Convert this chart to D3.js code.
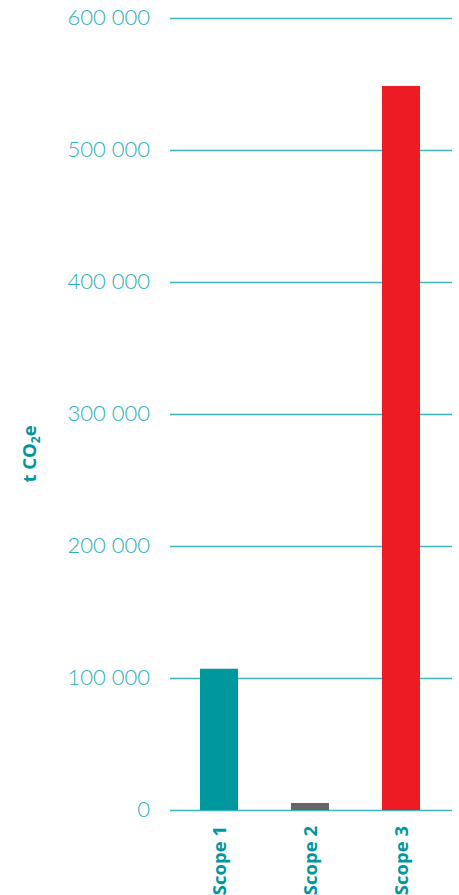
<!DOCTYPE html>
<html><head><meta charset="utf-8">
<script src="https://cdn.jsdelivr.net/npm/d3@7"></script>
<style>body{margin:0;background:#fff}svg{display:block}</style>
</head><body>
<svg id="c" width="459" height="895"></svg>
<script>
const categories = ["Scope 1", "Scope 2", "Scope 3"];
const values = [107000, 5300, 548500];
const barColors = ["#00989F", "#666666", "#ED1C24"];
const tickValues = [0, 100000, 200000, 300000, 400000, 500000, 600000];
const tickLabels = ["0", "100 000", "200 000", "300 000", "400 000", "500 000", "600 000"];

const svg = d3.select("#c");
const y = d3.scaleLinear().domain([0, 600000]).range([810, 18]);
const x = d3.scalePoint().domain(categories).range([219, 401]);
const barW = 38;

// gridlines
svg.append("g").selectAll("line").data(tickValues).join("line")
  .attr("x1", 170).attr("x2", 452)
  .attr("y1", d => y(d) + 0.5).attr("y2", d => y(d) + 0.5)
  .attr("stroke", "#3FB3BC").attr("stroke-width", 1.3);

// tick labels
svg.append("g").selectAll("text").data(tickValues).join("text")
  .attr("x", 150).attr("y", d => y(d) + 1.5)
  .attr("text-anchor", "end").attr("dominant-baseline", "middle")
  .attr("font-family", "Lato, 'Open Sans', sans-serif").attr("font-weight", 300)
  .attr("font-size", 22).attr("fill", "#29B0BC")
  .text((d, i) => tickLabels[i]);

// bars
svg.append("g").selectAll("rect").data(values).join("rect")
  .attr("x", (d, i) => x(categories[i]) - barW / 2)
  .attr("width", barW)
  .attr("y", d => y(d))
  .attr("height", d => y(0) - y(d))
  .attr("fill", (d, i) => barColors[i]);

// category labels
svg.append("g").selectAll("text").data(categories).join("text")
  .attr("transform", d => `translate(${x(d) + 6.5},826) rotate(-90)`)
  .attr("text-anchor", "end")
  .attr("font-family", "'Open Sans', sans-serif").attr("font-weight", 700)
  .attr("font-size", 18.5).attr("fill", "#0096A0")
  .text(d => d);

// y-axis title
const t = svg.append("text")
  .attr("transform", "translate(36,454) rotate(-90)")
  .attr("text-anchor", "middle")
  .attr("font-family", "'Open Sans', sans-serif").attr("font-weight", 700)
  .attr("font-size", 18.5).attr("fill", "#0096A0");
t.append("tspan").text("t CO");
t.append("tspan").attr("font-size", 12).attr("dy", 4).text("2");
t.append("tspan").attr("dy", -4).text("e");
</script>
</body></html>
